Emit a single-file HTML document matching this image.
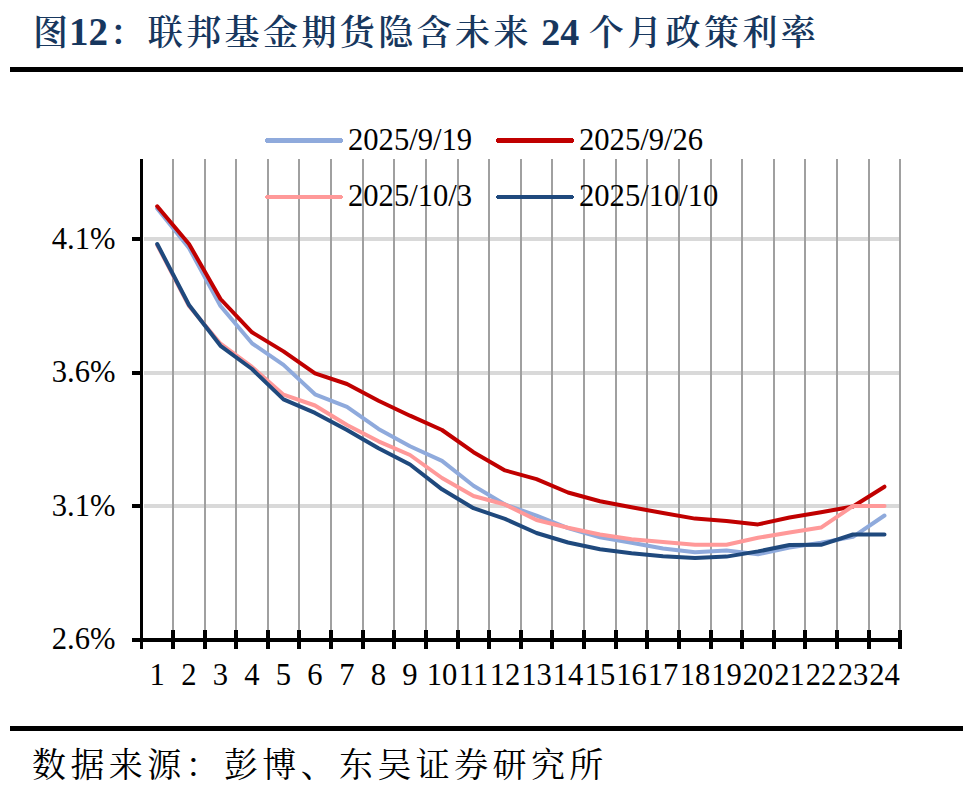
<!DOCTYPE html>
<html><head><meta charset="utf-8"><title>图12</title>
<style>
html,body{margin:0;padding:0;background:#fff;}
body{width:965px;height:787px;position:relative;overflow:hidden;}
.title{position:absolute;left:33px;top:5px;font-family:"Liberation Serif","Noto Serif CJK SC",serif;font-weight:600;font-size:35px;letter-spacing:3.4px;color:#17375E;white-space:nowrap;line-height:54px;}
.title b{font-size:39px;letter-spacing:0;font-weight:bold;}
.rule{position:absolute;left:10px;width:953px;height:5px;background:#000;}
.foot{position:absolute;left:32px;top:741px;font-family:"Liberation Serif","Noto Serif CJK SC",serif;font-size:34px;letter-spacing:4.38px;color:#000;white-space:nowrap;line-height:50px;}
svg .t{font-family:"Liberation Serif",serif;font-size:30.6px;fill:#000;}
</style></head><body>
<div class="title">图<b style="margin-left:-2.5px;margin-right:1.5px">12</b>：联邦基金期货隐含未来<b style="font-size:38px"> 24 </b>个月政策利率</div>
<div class="rule" style="top:67px"></div>
<svg width="965" height="787" viewBox="0 0 965 787" style="position:absolute;left:0;top:0">
<rect x="144" y="237" width="755" height="4" fill="#D9D9D9"/>
<rect x="144" y="371" width="755" height="4" fill="#D9D9D9"/>
<rect x="144" y="504" width="755" height="4" fill="#D9D9D9"/>
<rect x="172" y="159" width="2" height="481" fill="#A0A0A0"/>
<rect x="204" y="159" width="2" height="481" fill="#A0A0A0"/>
<rect x="235" y="159" width="2" height="481" fill="#A0A0A0"/>
<rect x="267" y="159" width="2" height="481" fill="#A0A0A0"/>
<rect x="298" y="159" width="2" height="481" fill="#A0A0A0"/>
<rect x="330" y="159" width="2" height="481" fill="#A0A0A0"/>
<rect x="362" y="159" width="2" height="481" fill="#A0A0A0"/>
<rect x="393" y="159" width="2" height="481" fill="#A0A0A0"/>
<rect x="425" y="159" width="2" height="481" fill="#A0A0A0"/>
<rect x="457" y="159" width="2" height="481" fill="#A0A0A0"/>
<rect x="488" y="159" width="2" height="481" fill="#A0A0A0"/>
<rect x="520" y="159" width="2" height="481" fill="#A0A0A0"/>
<rect x="551" y="159" width="2" height="481" fill="#A0A0A0"/>
<rect x="583" y="159" width="2" height="481" fill="#A0A0A0"/>
<rect x="615" y="159" width="2" height="481" fill="#A0A0A0"/>
<rect x="646" y="159" width="2" height="481" fill="#A0A0A0"/>
<rect x="678" y="159" width="2" height="481" fill="#A0A0A0"/>
<rect x="710" y="159" width="2" height="481" fill="#A0A0A0"/>
<rect x="741" y="159" width="2" height="481" fill="#A0A0A0"/>
<rect x="773" y="159" width="2" height="481" fill="#A0A0A0"/>
<rect x="804" y="159" width="2" height="481" fill="#A0A0A0"/>
<rect x="836" y="159" width="2" height="481" fill="#A0A0A0"/>
<rect x="868" y="159" width="2" height="481" fill="#A0A0A0"/>
<rect x="899" y="159" width="2" height="481" fill="#A0A0A0"/>
<rect x="266" y="138" width="76" height="5" fill="#8FAADC"/>
<rect x="265" y="139" width="78" height="3" fill="#8FAADC"/>
<rect x="497" y="138" width="76" height="5" fill="#C00000"/>
<rect x="496" y="139" width="78" height="3" fill="#C00000"/>
<rect x="266" y="195" width="76" height="4" fill="#FF9999"/>
<rect x="265" y="196" width="78" height="2" fill="#FF9999"/>
<rect x="497" y="195" width="76" height="4" fill="#1F497D"/>
<rect x="496" y="196" width="78" height="2" fill="#1F497D"/>
<text transform="translate(348,149.8) scale(1,1.05)" class="t">2025/9/19</text>
<text transform="translate(579,149.8) scale(1,1.05)" class="t">2025/9/26</text>
<text transform="translate(348,205.8) scale(1,1.05)" class="t">2025/10/3</text>
<text transform="translate(579,205.8) scale(1,1.05)" class="t">2025/10/10</text>
<polyline points="157.2,208.5 189.0,248.0 220.5,306.0 252.0,343.3 283.5,364.9 315.0,394.3 347.0,406.8 378.5,428.9 410.0,446.2 442.0,460.9 473.5,485.8 505.0,504.5 536.5,515.6 568.0,528.1 600.0,537.3 631.5,542.8 663.0,548.5 695.0,552.3 726.5,550.5 758.0,554.3 789.5,547.6 821.0,542.7 853.0,536.9 884.5,515.5" fill="none" stroke="#8FAADC" stroke-width="4.0" stroke-linejoin="round" stroke-linecap="round"/>
<polyline points="157.2,206.3 189.0,244.0 220.5,299.0 252.0,332.3 283.5,351.4 315.0,373.4 347.0,384.0 378.5,400.7 410.0,415.7 442.0,430.0 473.5,452.2 505.0,470.4 536.5,479.1 568.0,492.5 600.0,501.3 631.5,507.3 663.0,513.0 695.0,518.6 726.5,520.9 758.0,524.4 789.5,517.5 821.0,512.2 853.0,506.5 884.5,486.7" fill="none" stroke="#C00000" stroke-width="4.0" stroke-linejoin="round" stroke-linecap="round"/>
<polyline points="157.2,245.0 189.0,306.0 220.5,343.7 252.0,366.9 283.5,394.7 315.0,405.5 347.0,425.0 378.5,441.3 410.0,455.0 442.0,478.0 473.5,496.0 505.0,504.5 536.5,520.0 568.0,527.8 600.0,534.5 631.5,539.3 663.0,542.1 695.0,544.7 726.5,544.7 758.0,537.8 789.5,532.5 821.0,527.6 853.0,506.0 884.5,506.0" fill="none" stroke="#FF9999" stroke-width="4.0" stroke-linejoin="round" stroke-linecap="round"/>
<polyline points="157.2,244.0 189.0,305.0 220.5,345.8 252.0,369.0 283.5,399.4 315.0,412.9 347.0,430.0 378.5,448.2 410.0,464.5 442.0,489.3 473.5,508.2 505.0,518.9 536.5,533.0 568.0,542.5 600.0,549.2 631.5,553.2 663.0,556.2 695.0,558.1 726.5,556.6 758.0,551.4 789.5,545.0 821.0,544.8 853.0,534.5 884.5,534.5" fill="none" stroke="#1F497D" stroke-width="4.0" stroke-linejoin="round" stroke-linecap="round"/>
<rect x="140" y="159" width="3" height="490" fill="#000"/>
<rect x="132" y="237" width="9" height="4" fill="#000"/>
<rect x="132" y="371" width="9" height="4" fill="#000"/>
<rect x="132" y="504" width="9" height="4" fill="#000"/>
<rect x="132" y="638" width="770" height="4" fill="#000"/>
<rect x="171" y="630" width="4" height="19" fill="#000"/>
<rect x="203" y="630" width="4" height="19" fill="#000"/>
<rect x="234" y="630" width="4" height="19" fill="#000"/>
<rect x="266" y="630" width="4" height="19" fill="#000"/>
<rect x="297" y="630" width="4" height="19" fill="#000"/>
<rect x="329" y="630" width="4" height="19" fill="#000"/>
<rect x="361" y="630" width="4" height="19" fill="#000"/>
<rect x="392" y="630" width="4" height="19" fill="#000"/>
<rect x="424" y="630" width="4" height="19" fill="#000"/>
<rect x="456" y="630" width="4" height="19" fill="#000"/>
<rect x="487" y="630" width="4" height="19" fill="#000"/>
<rect x="519" y="630" width="4" height="19" fill="#000"/>
<rect x="550" y="630" width="4" height="19" fill="#000"/>
<rect x="582" y="630" width="4" height="19" fill="#000"/>
<rect x="614" y="630" width="4" height="19" fill="#000"/>
<rect x="645" y="630" width="4" height="19" fill="#000"/>
<rect x="677" y="630" width="4" height="19" fill="#000"/>
<rect x="709" y="630" width="4" height="19" fill="#000"/>
<rect x="740" y="630" width="4" height="19" fill="#000"/>
<rect x="772" y="630" width="4" height="19" fill="#000"/>
<rect x="803" y="630" width="4" height="19" fill="#000"/>
<rect x="835" y="630" width="4" height="19" fill="#000"/>
<rect x="867" y="630" width="4" height="19" fill="#000"/>
<rect x="898" y="630" width="4" height="19" fill="#000"/>
<text transform="translate(115.5,249.3) scale(1,1.05)" class="t" text-anchor="end">4.1%</text>
<text transform="translate(115.5,382.0) scale(1,1.05)" class="t" text-anchor="end">3.6%</text>
<text transform="translate(115.5,515.9) scale(1,1.05)" class="t" text-anchor="end">3.1%</text>
<text transform="translate(115.5,648.9) scale(1,1.05)" class="t" text-anchor="end">2.6%</text>
<text transform="translate(157.2,685.2) scale(1,1.05)" class="t" text-anchor="middle">1</text>
<text transform="translate(189.0,685.2) scale(1,1.05)" class="t" text-anchor="middle">2</text>
<text transform="translate(220.5,685.2) scale(1,1.05)" class="t" text-anchor="middle">3</text>
<text transform="translate(252.0,685.2) scale(1,1.05)" class="t" text-anchor="middle">4</text>
<text transform="translate(283.5,685.2) scale(1,1.05)" class="t" text-anchor="middle">5</text>
<text transform="translate(315.0,685.2) scale(1,1.05)" class="t" text-anchor="middle">6</text>
<text transform="translate(347.0,685.2) scale(1,1.05)" class="t" text-anchor="middle">7</text>
<text transform="translate(378.5,685.2) scale(1,1.05)" class="t" text-anchor="middle">8</text>
<text transform="translate(410.0,685.2) scale(1,1.05)" class="t" text-anchor="middle">9</text>
<text transform="translate(442.0,685.2) scale(1,1.05)" class="t" text-anchor="middle">10</text>
<text transform="translate(473.5,685.2) scale(1,1.05)" class="t" text-anchor="middle">11</text>
<text transform="translate(505.0,685.2) scale(1,1.05)" class="t" text-anchor="middle">12</text>
<text transform="translate(536.5,685.2) scale(1,1.05)" class="t" text-anchor="middle">13</text>
<text transform="translate(568.0,685.2) scale(1,1.05)" class="t" text-anchor="middle">14</text>
<text transform="translate(600.0,685.2) scale(1,1.05)" class="t" text-anchor="middle">15</text>
<text transform="translate(631.5,685.2) scale(1,1.05)" class="t" text-anchor="middle">16</text>
<text transform="translate(663.0,685.2) scale(1,1.05)" class="t" text-anchor="middle">17</text>
<text transform="translate(695.0,685.2) scale(1,1.05)" class="t" text-anchor="middle">18</text>
<text transform="translate(726.5,685.2) scale(1,1.05)" class="t" text-anchor="middle">19</text>
<text transform="translate(758.0,685.2) scale(1,1.05)" class="t" text-anchor="middle">20</text>
<text transform="translate(789.5,685.2) scale(1,1.05)" class="t" text-anchor="middle">21</text>
<text transform="translate(821.0,685.2) scale(1,1.05)" class="t" text-anchor="middle">22</text>
<text transform="translate(853.0,685.2) scale(1,1.05)" class="t" text-anchor="middle">23</text>
<text transform="translate(884.5,685.2) scale(1,1.05)" class="t" text-anchor="middle">24</text>
</svg>
<div class="rule" style="top:726px"></div>
<div class="foot">数据来源：彭博、东吴证券研究所</div>
</body></html>
